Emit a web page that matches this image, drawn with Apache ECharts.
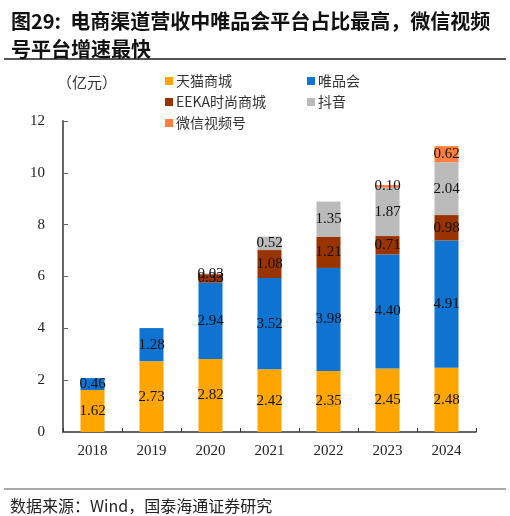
<!DOCTYPE html>
<html>
<head>
<meta charset="utf-8">
<script src="https://cdn.jsdelivr.net/npm/echarts@6/dist/echarts.min.js"></script>
<style>
  html, body { margin: 0; padding: 0; background: #fff; }
  #chart { width: 510px; height: 516px; }
</style>
</head>
<body>
<div id="chart"></div>
<script>
const years = ['2018', '2019', '2020', '2021', '2022', '2023', '2024'];
const tmall = [1.62, 2.73, 2.82, 2.42, 2.35, 2.45, 2.48];
const vip = [0.46, 1.28, 2.94, 3.52, 3.98, 4.40, 4.91];
const eeka = [null, null, 0.33, 1.08, 1.21, 0.71, 0.98];
const douyin = [null, null, 0.03, 0.52, 1.35, 1.87, 2.04];
const wechat = [null, null, null, null, null, 0.10, 0.62];
const seriesNames = ['天猫商城', '唯品会', 'EEKA时尚商城', '抖音', '微信视频号'];
const seriesColors = ['#FFA500', '#0F74D1', '#993300', '#BBBBBB', '#FF7F3F'];

const SERIF = '"Liberation Serif", "Noto Sans CJK SC", serif';
const CJK = '"Noto Sans CJK SC", sans-serif';

const c = echarts.init(document.getElementById('chart'), null, { renderer: 'canvas' });

// one legend per item so the two columns line up
const legendPos = [[160, 69], [302, 69], [160, 90], [302, 90], [160, 111]];
const legends = seriesNames.map((n, i) => ({
  data: [n],
  left: legendPos[i][0], top: legendPos[i][1],
  itemWidth: 8, itemHeight: 8, itemGap: 0,
  icon: 'rect',
  textStyle: { fontFamily: CJK, fontSize: 14, color: '#333', padding: [0, 0, 0, -2] },
  selectedMode: false,
}));

const data = [tmall, vip, eeka, douyin, wechat];

c.setOption({
  animation: false,
  title: [
    { text: '图29:  电商渠道营收中唯品会平台占比最高，微信视频', left: 6, top: 6,
      textStyle: { fontFamily: CJK, fontSize: 20, fontWeight: 'bold', color: '#111' } },
    { text: '号平台增速最快', left: 6, top: 34,
      textStyle: { fontFamily: CJK, fontSize: 20, fontWeight: 'bold', color: '#111' } },
    { text: '（亿元）', left: 52, top: 70,
      textStyle: { fontFamily: CJK, fontSize: 15, fontWeight: 'normal', color: '#333' } },
    { text: '数据来源：Wind，国泰海通证券研究', left: 5, top: 493,
      textStyle: { fontFamily: CJK, fontSize: 16, fontWeight: 'normal', color: '#222' } },
  ],
  graphic: [
    { type: 'line', shape: { x1: 4, y1: 59, x2: 506, y2: 59 }, style: { stroke: '#555', lineWidth: 2 } },
    { type: 'line', shape: { x1: 4, y1: 489, x2: 506, y2: 489 }, style: { stroke: '#555', lineWidth: 1 } },
  ],
  legend: legends,
  grid: { left: 63, right: 34, top: 121, bottom: 84 },
  xAxis: {
    type: 'category', data: years,
    axisLine: { lineStyle: { color: '#333', width: 1.5 } },
    axisTick: { show: true, inside: true, length: 4, lineStyle: { color: '#333' } },
    axisLabel: { fontFamily: SERIF, fontSize: 15, color: '#222', margin: 12 },
  },
  yAxis: {
    type: 'value', min: 0, max: 12, interval: 2,
    axisLine: { show: true, lineStyle: { color: '#666', width: 2 } },
    axisTick: { show: true, inside: true, length: 5, lineStyle: { color: '#666' } },
    splitLine: { show: false },
    axisLabel: { fontFamily: SERIF, fontSize: 15, color: '#222', margin: 18 },
  },
  series: seriesNames.map((n, i) => ({
    name: n, type: 'bar', stack: 'total', data: data[i],
    barWidth: 24,
    itemStyle: { color: seriesColors[i] },
    label: {
      show: true, position: 'inside',
      fontFamily: SERIF, fontSize: 15, color: '#111',
      formatter: p => p.value == null ? '' : p.value.toFixed(2),
    },
  })),
});
</script>
</body>
</html>
